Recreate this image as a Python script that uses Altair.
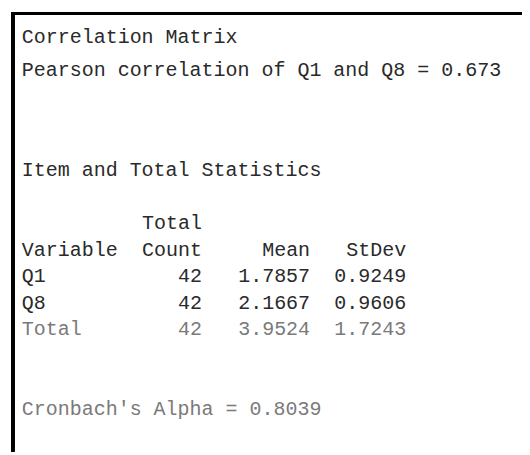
import altair as alt
import pandas as pd

# ---- content (read from the Minitab output) ----
plain_lines = [
    "Correlation Matrix",
    "Pearson correlation of Q1 and Q8 = 0.673",
    "Item and Total Statistics",
    "Cronbach's Alpha = 0.8039",
]
plain_rows = [0, 1.25, 5, 14]

header_top = "Total"
columns = ["Variable", "Count", "Mean", "StDev"]
variables = ["Q1", "Q8", "Total"]
counts = ["42", "42", "42"]
means = ["1.7857", "2.1667", "3.9524"]
stdevs = ["0.9249", "0.9606", "1.7243"]

# ---- layout (character columns / text rows) ----
HEADER_ROW = 7
COL_ENDS = [None, 15, 24, 32]   # right edge (in characters) of the numeric columns
FADED = {"Total row", "Cronbach"}

cells = []
for text, row in zip(plain_lines, plain_rows):
    cells.append({"text": text, "col": 0, "row": row, "align": "left",
                  "tone": "faded" if text.startswith("Cronbach") else "dark"})
cells.append({"text": header_top, "col": COL_ENDS[1], "row": HEADER_ROW, "align": "right", "tone": "dark"})
for j, name in enumerate(columns):
    if j == 0:
        cells.append({"text": name, "col": 0, "row": HEADER_ROW + 1, "align": "left", "tone": "dark"})
    else:
        cells.append({"text": name, "col": COL_ENDS[j], "row": HEADER_ROW + 1, "align": "right", "tone": "dark"})
for i, v in enumerate(variables):
    r = HEADER_ROW + 2 + i
    tone = "faded" if v == "Total" else "dark"
    cells.append({"text": v, "col": 0, "row": r, "align": "left", "tone": tone})
    for j, vals in zip([1, 2, 3], [counts, means, stdevs]):
        cells.append({"text": vals[i], "col": COL_ENDS[j], "row": r, "align": "right", "tone": tone})

df = pd.DataFrame(cells)

W, H = 522, 447
CW, LH = 12.2, 27.0
X0, Y0 = 14, 32
xdom = [-X0 / CW, (W - X0) / CW]
ydom = [-Y0 / LH, (H - Y0) / LH]

xs = alt.X("col:Q", scale=alt.Scale(domain=xdom, nice=False, zero=False), axis=None)
ys = alt.Y("row:Q", scale=alt.Scale(domain=ydom, nice=False, zero=False, reverse=True), axis=None)
color = alt.Color("tone:N", scale=alt.Scale(domain=["dark", "faded"], range=["#2a2a2a", "#7a7a7a"]), legend=None)

base = alt.Chart(df)
left = base.transform_filter(alt.datum.align == "left").mark_text(
    align="left", baseline="alphabetic", font="Liberation Mono", fontSize=20.3
).encode(x=xs, y=ys, text="text:N", color=color)
right = base.transform_filter(alt.datum.align == "right").mark_text(
    align="right", baseline="alphabetic", font="Liberation Mono", fontSize=20.3
).encode(x=xs, y=ys, text="text:N", color=color)

frame_left = alt.Chart(df).mark_rule(color="black", strokeWidth=2.5).encode(
    x=alt.value(5), y=alt.value(1), y2=alt.value(H)
)
frame_top = alt.Chart(df).mark_rule(color="black", strokeWidth=2.5).encode(
    x=alt.value(4), x2=alt.value(W), y=alt.value(2)
)

chart = alt.layer(frame_left, frame_top, left, right).properties(
    width=W, height=H, padding=0, autosize=alt.AutoSizeParams(type="none"),
    background="white"
).configure_view(stroke=None)

chart.save("out.html", embed_options={"renderer": "svg", "actions": False})
